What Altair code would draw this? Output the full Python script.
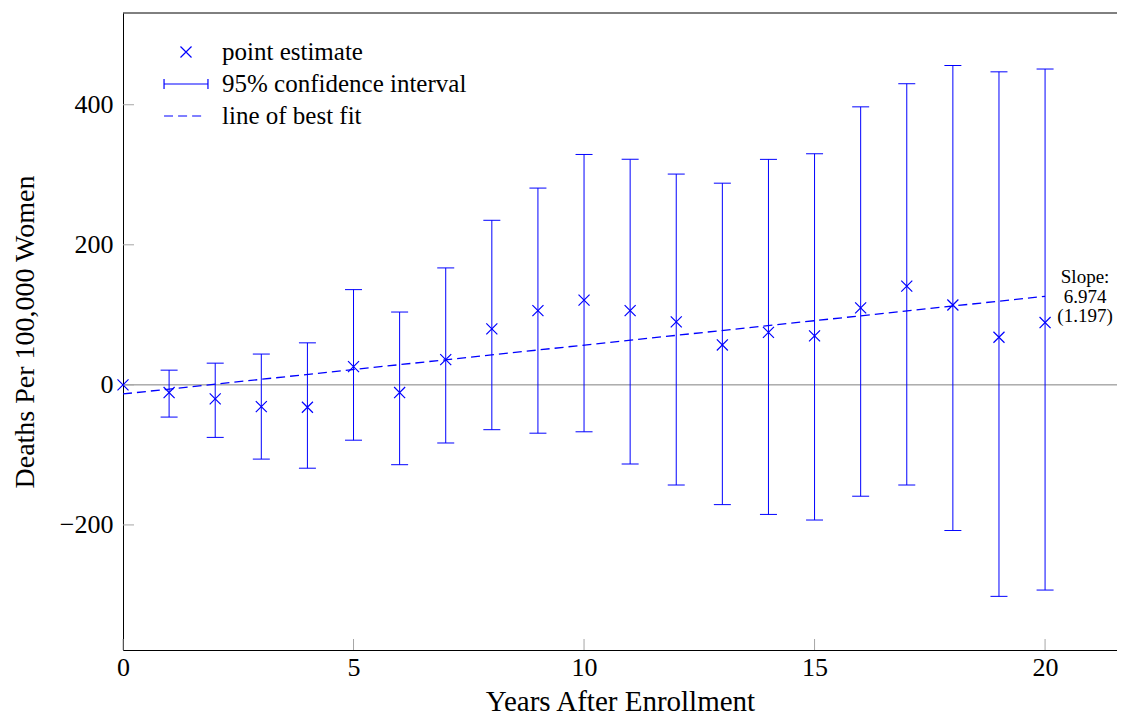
import altair as alt
import pandas as pd

# ---- data ----
years = list(range(21))
estimate = [0, -11, -20, -31, -32, 26, -11, 36, 80, 106, 121, 106, 90, 57, 75, 70, 110, 141, 114, 68, 89]
ci_upper = [None, 21, 31, 44, 60, 136, 104, 167, 235, 281, 329, 322, 301, 288, 322, 330, 397, 430, 456, 447, 451]
ci_lower = [None, -46, -75, -106, -119, -79, -114, -83, -64, -69, -67, -113, -143, -171, -185, -193, -159, -143, -208, -302, -293]
fit_x = [0, 20]
fit_y = [-13.0, 126.5]
slope_lines = ["Slope:", "6.974", "(1.197)"]
x_ticks = [0, 5, 10, 15, 20]
y_ticks = [-200, 0, 200, 400]
legend_names = ["point estimate", "95% confidence interval", "line of best fit"]

BLUE = "#0000ff"
FONT = "Liberation Serif"
W, H = 994, 637

x_scale = alt.Scale(domain=[0, 21.56], nice=False, zero=False)
y_scale = alt.Scale(domain=[-378.6, 531], nice=False, zero=False)

# custom symbol paths (unit = sqrt(size)/2 px)
SYM_X = "M-0.46,-0.46L0.46,0.46M-0.46,0.46L0.46,-0.46"
SYM_CI = "M-1.83,0L1.83,0M-1.83,-0.42L-1.83,0.42M1.83,-0.42L1.83,0.42"
SYM_DASH = "M-1.83,0L-1.08,0M-0.66,0L0.09,0M0.51,0L1.26,0"

pts = pd.DataFrame({"year": years, "est": estimate, "series": [legend_names[0]] * len(years)})
ci = pd.DataFrame({"year": years[1:], "lo": ci_lower[1:], "hi": ci_upper[1:]})
fit = pd.DataFrame({"year": fit_x, "y": fit_y})
ann = pd.DataFrame({"x": [fit_x[-1]], "y": [fit_y[-1]], "t": ["\n".join(slope_lines)]})
xt = pd.DataFrame({"t": x_ticks})
yt = pd.DataFrame({"t": y_ticks})
zero_df = pd.DataFrame({"z": [0]})

x_axis = alt.Axis(values=x_ticks, title="Years After Enrollment", ticks=False, tickSize=0, grid=False,
                  domainColor="#000000", domainWidth=1, labelFont=FONT, labelFontSize=26,
                  labelColor="#000000", labelPadding=4, labelFlush=False, titleFont=FONT,
                  titleFontSize=29, titleFontWeight="normal", titleColor="#000000", titlePadding=7)
y_axis = alt.Axis(values=y_ticks, title="Deaths Per 100,000 Women", ticks=False, tickSize=0, grid=False,
                  domainColor="#000000", domainWidth=1, labelFont=FONT, labelFontSize=26,
                  labelColor="#000000", labelPadding=10, labelFlush=False, titleFont=FONT,
                  titleFontSize=28, titleFontWeight="normal", titleColor="#000000", titlePadding=20)


def X(field):
    return alt.X(field, scale=x_scale, axis=x_axis)


def Y(field):
    return alt.Y(field, scale=y_scale, axis=y_axis)


zero_line = alt.Chart(zero_df).mark_rule(color="#808080", strokeWidth=1).encode(
    y=Y("z:Q"),
)

top_border = alt.Chart(zero_df).mark_rule(color="#000000", strokeWidth=1).encode(
    x=alt.value(0), x2=alt.value(W), y=alt.value(0)
)

x_tick_marks = alt.Chart(xt).mark_rule(color="#a6a6a6", strokeWidth=1).encode(
    x=X("t:Q"), y=alt.value(H), y2=alt.value(H - 11)
)
y_tick_marks = alt.Chart(yt).mark_rule(color="#a6a6a6", strokeWidth=1).encode(
    y=Y("t:Q"), x=alt.value(0), x2=alt.value(11)
)

ci_rules = alt.Chart(ci).mark_rule(color=BLUE, strokeWidth=1).encode(
    x=X("year:Q"), y=Y("lo:Q"), y2="hi:Q",
)
cap_lo = alt.Chart(ci).mark_tick(color=BLUE, orient="horizontal", size=17, thickness=1, opacity=1).encode(
    x=X("year:Q"), y=Y("lo:Q"),
)
cap_hi = alt.Chart(ci).mark_tick(color=BLUE, orient="horizontal", size=17, thickness=1, opacity=1).encode(
    x=X("year:Q"), y=Y("hi:Q"),
)

fit_line = alt.Chart(fit).mark_line(color=BLUE, strokeWidth=1.3, strokeDash=[9, 5]).encode(
    x=X("year:Q"), y=Y("y:Q"),
)

points = alt.Chart(pts).mark_point(filled=False, color=BLUE, opacity=1, size=576, strokeWidth=1.2).encode(
    x=X("year:Q"), y=Y("est:Q"),
    shape=alt.Shape("series:N",
                    scale=alt.Scale(domain=legend_names, range=[SYM_X, SYM_CI, SYM_DASH]),
                    legend=alt.Legend(title=None, orient="none", legendX=50, legendY=26,
                                      symbolSize=576, symbolStrokeColor=BLUE,
                                      symbolFillColor="transparent", symbolStrokeWidth=1.2,
                                      labelFont=FONT, labelFontSize=25, labelColor="#000000",
                                      labelOffset=23, rowPadding=6, padding=0, labelLimit=0)),
)

annotation = alt.Chart(ann).mark_text(align="center", baseline="middle", dx=40, dy=-19, font=FONT,
                                      fontSize=19, lineHeight=19.5, lineBreak="\n",
                                      color="#000000").encode(
    x=X("x:Q"), y=Y("y:Q"), text="t:N",
)

chart = alt.layer(
    zero_line, top_border, x_tick_marks, y_tick_marks, ci_rules, cap_lo, cap_hi, fit_line, points, annotation
).properties(
    width=W, height=H,
    autosize=alt.AutoSizeParams(type="none"),
    padding={"left": 115, "top": 5, "right": 0, "bottom": 65},
).configure(
    background="white", font=FONT
).configure_view(
    stroke=None
).configure_axis(
    labelFont=FONT, titleFont=FONT
).configure_legend(
    labelFont=FONT
).configure_text(
    font=FONT
)

chart.save("out.html", embed_options={"renderer": "svg", "actions": False})
